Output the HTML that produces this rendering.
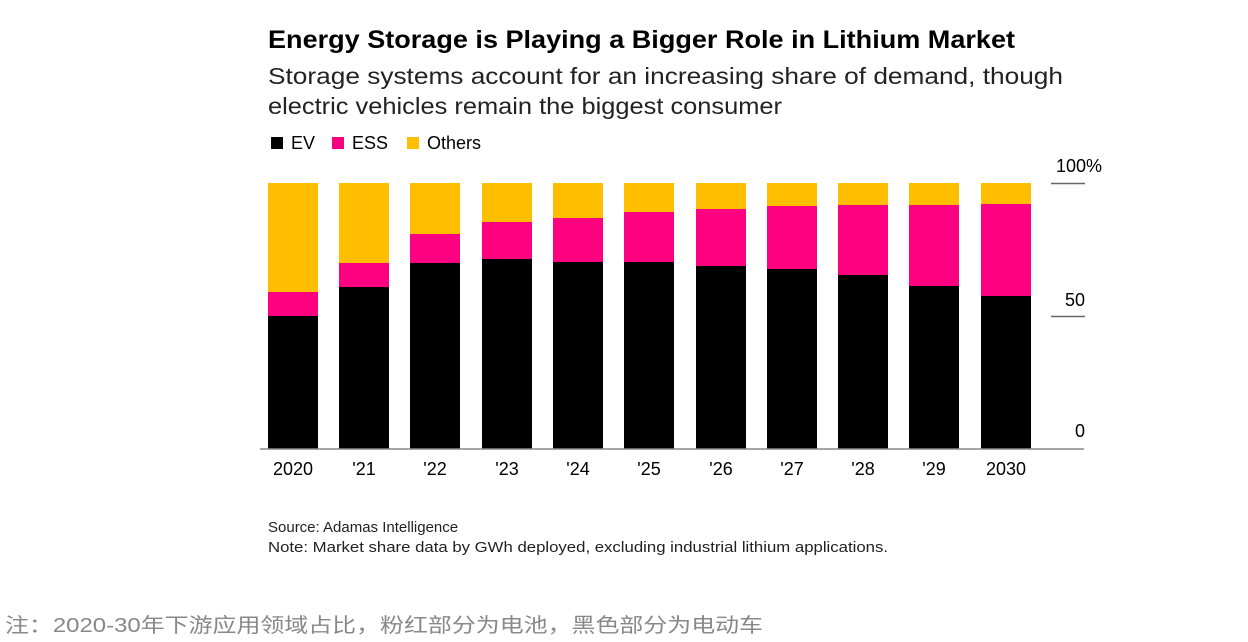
<!DOCTYPE html>
<html><head><meta charset="utf-8"><style>
html,body{margin:0;padding:0;background:#fff;}
svg{display:block;}
text{font-family:"Liberation Sans",Arial,sans-serif;}
</style></head><body>
<svg width="1248" height="642" xmlns="http://www.w3.org/2000/svg">
<text x="268" y="48" font-size="25" font-weight="bold" fill="#000" textLength="747" lengthAdjust="spacingAndGlyphs">Energy Storage is Playing a Bigger Role in Lithium Market</text>
<text x="268" y="84" font-size="23.5" fill="#222" textLength="795" lengthAdjust="spacingAndGlyphs">Storage systems account for an increasing share of demand, though</text>
<text x="268" y="114" font-size="23.5" fill="#222" textLength="514" lengthAdjust="spacingAndGlyphs">electric vehicles remain the biggest consumer</text>
<rect x="271" y="137" width="12" height="12" fill="#000"/>
<text x="291" y="149" font-size="18" fill="#000">EV</text>
<rect x="332" y="137" width="12" height="12" fill="#ff0080"/>
<text x="352" y="149" font-size="18" fill="#000">ESS</text>
<rect x="407" y="137" width="12" height="12" fill="#ffbf00"/>
<text x="427" y="149" font-size="18" fill="#000">Others</text>
<g>
<rect x="268" y="183" width="50" height="266" fill="#ffbf00"/><rect x="268" y="292" width="50" height="157" fill="#ff0080"/><rect x="268" y="316" width="50" height="133" fill="#000"/>
<rect x="339" y="183" width="50" height="266" fill="#ffbf00"/><rect x="339" y="263" width="50" height="186" fill="#ff0080"/><rect x="339" y="287" width="50" height="162" fill="#000"/>
<rect x="410" y="183" width="50" height="266" fill="#ffbf00"/><rect x="410" y="234" width="50" height="215" fill="#ff0080"/><rect x="410" y="263" width="50" height="186" fill="#000"/>
<rect x="482" y="183" width="50" height="266" fill="#ffbf00"/><rect x="482" y="222" width="50" height="227" fill="#ff0080"/><rect x="482" y="259" width="50" height="190" fill="#000"/>
<rect x="553" y="183" width="50" height="266" fill="#ffbf00"/><rect x="553" y="218" width="50" height="231" fill="#ff0080"/><rect x="553" y="262" width="50" height="187" fill="#000"/>
<rect x="624" y="183" width="50" height="266" fill="#ffbf00"/><rect x="624" y="212" width="50" height="237" fill="#ff0080"/><rect x="624" y="262" width="50" height="187" fill="#000"/>
<rect x="696" y="183" width="50" height="266" fill="#ffbf00"/><rect x="696" y="209" width="50" height="240" fill="#ff0080"/><rect x="696" y="266" width="50" height="183" fill="#000"/>
<rect x="767" y="183" width="50" height="266" fill="#ffbf00"/><rect x="767" y="206" width="50" height="243" fill="#ff0080"/><rect x="767" y="269" width="50" height="180" fill="#000"/>
<rect x="838" y="183" width="50" height="266" fill="#ffbf00"/><rect x="838" y="205" width="50" height="244" fill="#ff0080"/><rect x="838" y="275" width="50" height="174" fill="#000"/>
<rect x="909" y="183" width="50" height="266" fill="#ffbf00"/><rect x="909" y="205" width="50" height="244" fill="#ff0080"/><rect x="909" y="286" width="50" height="163" fill="#000"/>
<rect x="981" y="183" width="50" height="266" fill="#ffbf00"/><rect x="981" y="204" width="50" height="245" fill="#ff0080"/><rect x="981" y="296" width="50" height="153" fill="#000"/>
</g>
<line x1="260" y1="449" x2="1084" y2="449" stroke="#888" stroke-width="1.5"/>
<line x1="1051" y1="183.5" x2="1085" y2="183.5" stroke="#666" stroke-width="1.5"/>
<line x1="1051" y1="316.5" x2="1085" y2="316.5" stroke="#666" stroke-width="1.5"/>
<text x="1102" y="172" font-size="18" fill="#000" text-anchor="end">100%</text>
<text x="1085" y="306" font-size="18" fill="#000" text-anchor="end">50</text>
<text x="1085" y="437" font-size="18" fill="#000" text-anchor="end">0</text>
<g font-size="18" fill="#000" text-anchor="middle">
<text x="293" y="475">2020</text><text x="364" y="475">'21</text><text x="435" y="475">'22</text>
<text x="507" y="475">'23</text><text x="578" y="475">'24</text><text x="649" y="475">'25</text>
<text x="721" y="475">'26</text><text x="792" y="475">'27</text><text x="863" y="475">'28</text>
<text x="934" y="475">'29</text><text x="1006" y="475">2030</text>
</g>
<text x="268" y="532" font-size="15" fill="#222">Source: Adamas Intelligence</text>
<text x="268" y="552" font-size="15" fill="#222" textLength="620" lengthAdjust="spacingAndGlyphs">Note: Market share data by GWh deployed, excluding industrial lithium applications.</text>
<text x="5" y="632" font-size="20" fill="#888" style='font-family:"Liberation Sans","Noto Sans CJK SC",sans-serif' textLength="758" lengthAdjust="spacingAndGlyphs">注：2020-30年下游应用领域占比，粉红部分为电池，黑色部分为电动车</text>
</svg>
</body></html>
